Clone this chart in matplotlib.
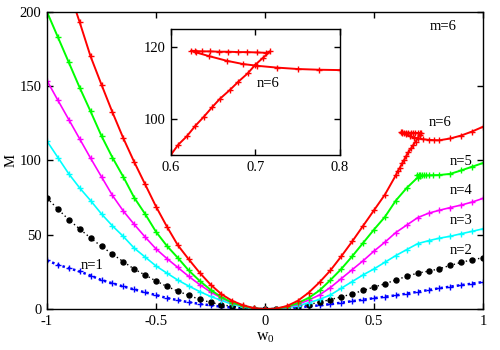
import matplotlib
matplotlib.use("Agg")
import matplotlib.pyplot as plt
import numpy as np

plt.rcParams['font.family'] = ['Liberation Serif', 'DejaVu Serif']
plt.rcParams['mathtext.fontset'] = 'custom'
plt.rcParams['mathtext.rm'] = 'Liberation Serif'
plt.rcParams['mathtext.it'] = 'Liberation Serif'

# ---- data ----
w_left = [-1, -0.95, -0.9, -0.85, -0.8, -0.75, -0.7, -0.65, -0.6, -0.55, -0.5,
          -0.45, -0.4, -0.35, -0.3, -0.25, -0.2, -0.15, -0.1, -0.05, 0]
w_right = [0.05, 0.1, 0.15, 0.2, 0.25, 0.3, 0.35, 0.4, 0.45, 0.5, 0.55, 0.6,
           0.65, 0.7, 0.75, 0.8, 0.85, 0.9, 0.95, 1.0]

n1_left = [32.7, 29.8, 27.5, 25.3, 22.5, 19.5, 17.3, 15.2, 13.2, 11.2, 9.4,
           7.4, 6.0, 4.6, 3.5, 2.5, 1.6, 1.0, 0.5, 0.2, 0]
n1_right = [0.05, 0.3, 1.0, 1.8, 2.5, 3.3, 4.3, 5.3, 6.3, 7.3, 8.3, 9.2,
            10.4, 11.6, 12.8, 14.0, 15.1, 16.1, 17.1, 18.2]

n2_left = [74.7, 67.3, 60.1, 53.9, 47.8, 42.2, 37.0, 31.9, 26.9, 22.9, 18.9,
           15.2, 12.1, 9.2, 6.5, 4.5, 2.9, 1.8, 0.8, 0.2, 0]
n2_right = [0.1, 0.7, 1.8, 3.0, 4.6, 6.4, 8.2, 10.2, 12.5, 14.8, 17.0, 19.6,
            22.0, 24.2, 25.5, 27.1, 29.4, 31.4, 33.2, 34.5]

n3_left = [113, 102, 91, 81.5, 73, 64, 56, 48.9, 41, 35, 29,
           24.2, 19.5, 15.5, 11.8, 8.5, 5.8, 3.2, 1.3, 0.3, 0]
n3_right = [0.1, 0.8, 2.2, 4.2, 6.5, 9.5, 14.0, 18.5, 23.0, 27.0, 31.5, 36.0,
            40.0, 44.0, 46.0, 47.7, 49.0, 50.7, 52.3, 54.0]

n4_left = [153.7, 140.5, 127.5, 114.5, 101.5, 89, 76.5, 66, 57, 48.5, 40.5,
           34, 28, 22, 16.5, 11.5, 7.5, 4.0, 1.8, 0.5, 0]
n4_right = [0.2, 1.2, 3.2, 6.0, 9.5, 14.5, 20.5, 26.5, 32.5, 39.0, 45.0, 51.5,
            56.5, 61.5, 64.5, 66.5, 68.3, 70.0, 72.0, 74.5]

n5_left = [200, 183, 166, 149, 133, 116.5, 102, 89, 75, 64, 52,
           42.5, 34.5, 26, 19, 13, 8, 4.3, 2.0, 0.5, 0]
n5_w_right = [0.05, 0.1, 0.15, 0.2, 0.25, 0.3, 0.35, 0.4, 0.45, 0.5, 0.55, 0.6,
              0.65, 0.7, 0.712, 0.705, 0.697, 0.71, 0.72, 0.73, 0.74, 0.75,
              0.77, 0.8, 0.85, 0.9, 0.95, 1.0]
n5_right = [0.2, 1.5, 4.0, 7.5, 12.5, 19.5, 27.0, 35.5, 44.5, 53.5, 62.0, 73.0,
            81.5, 88.5, 89.8, 89.9, 89.9, 89.9, 89.9, 89.9, 90.0, 90.0,
            90.1, 90.2, 91.0, 93.3, 95.8, 98.3]

n6_left = [262, 238, 215, 193, 170, 151, 132.5, 115, 99, 84, 69,
           55.5, 43, 33.5, 24.5, 16.5, 10, 5.5, 2.5, 0.6, 0]
n6_w_right = [0.05, 0.1, 0.15, 0.2, 0.25, 0.3, 0.35, 0.4, 0.45, 0.5, 0.55, 0.6,
              0.609, 0.619, 0.629, 0.639, 0.649, 0.658, 0.670, 0.680, 0.691,
              0.700, 0.709, 0.7175,
              0.713, 0.702, 0.690, 0.680, 0.668, 0.657, 0.647, 0.637, 0.629,
              0.624, 0.63, 0.645, 0.666, 0.685, 0.702, 0.725, 0.75, 0.775,
              0.8, 0.85, 0.9, 0.95, 1.0]
n6_right = [0.3, 2.0, 5.5, 11.0, 18.0, 26.0, 35.5, 45.5, 56.0, 66.5, 77.0, 90.0,
            92.9, 95.2, 98.1, 100.6, 103.3, 105.6, 108.1, 110.4, 112.7,
            115.1, 117.0, 118.8,
            118.4, 118.5, 118.6, 118.6, 118.7, 118.7, 118.8, 118.8, 118.9,
            119.0, 118.5, 117.5, 116.2, 115.3, 114.8, 114.3, 113.9, 113.7,
            113.6, 114.8, 116.8, 119.5, 122.7]

x_ticks = [-1, -0.5, 0, 0.5, 1]
x_ticklabels = ['-1', '-0.5', '0', '0.5', '1']
y_ticks = [0, 50, 100, 150, 200]
inset_x_ticks = [0.6, 0.7, 0.8]
inset_x_ticklabels = ['0.6', '0.7', '0.8']
inset_y_ticks = [100, 120]

fig = plt.figure(figsize=(5, 3.5), dpi=100)
ax = fig.add_axes([0.094, 0.117, 0.872, 0.849])

FS = 10.5
MS = 4.2

def wl(right_w):
    return list(w_left) + list(right_w)

ax.plot(wl(w_right), n1_left + n1_right, color='#0000ff', lw=1.8,
        linestyle=(0, (1, 1.2)), marker='+', ms=MS, mew=1.0)
ax.plot(wl(w_right), n2_left + n2_right, color='black', lw=1.0,
        linestyle=(0, (1, 2)), marker='o', ms=3.6, mec='black', mfc='black')
ax.plot(wl(w_right), n3_left + n3_right, color='#00ffff', lw=1.2,
        marker='+', ms=MS, mew=1.0)
ax.plot(wl(w_right), n4_left + n4_right, color='#ff00ff', lw=1.2,
        marker='+', ms=MS, mew=1.0)
ax.plot(wl(n5_w_right), n5_left + n5_right, color='#00ff00', lw=1.4,
        marker='+', ms=MS, mew=1.0)
ax.plot(wl(n6_w_right), n6_left + n6_right, color='#ff0000', lw=1.4,
        marker='+', ms=MS, mew=1.0)

ax.set_xlim(-1, 1)
ax.set_ylim(0, 200)
ax.set_xticks(x_ticks)
ax.set_xticklabels(x_ticklabels)
ax.set_yticks(y_ticks)
ax.tick_params(direction='in', top=True, right=True, length=4, width=1,
               labelsize=FS, pad=4)
for s in ax.spines.values():
    s.set_linewidth(1.0)

ax.set_ylabel('M', fontsize=FS, labelpad=1)
ax.set_xlabel(r'$\mathrm{w_0}$', fontsize=FS + 1, labelpad=1)

ax.text(-0.794, 29.2, 'n=1', fontsize=FS, ha='center', va='center')
ax.text(0.899, 39.3, 'n=2', fontsize=FS, ha='center', va='center')
ax.text(0.899, 59.5, 'n=3', fontsize=FS, ha='center', va='center')
ax.text(0.899, 79.7, 'n=4', fontsize=FS, ha='center', va='center')
ax.text(0.899, 99.2, 'n=5', fontsize=FS, ha='center', va='center')
ax.text(0.803, 125.4, 'n=6', fontsize=FS, ha='center', va='center')
ax.text(0.817, 190, 'm=6', fontsize=FS, ha='center', va='center')

# ---- inset ----
ins = fig.add_axes([0.3414, 0.557, 0.3386, 0.36])
ins.plot(n6_w_right, n6_right, color='#ff0000', lw=1.4, marker='+', ms=MS, mew=1.0)
ins.set_xlim(0.6, 0.8)
ins.set_ylim(90, 125)
ins.set_xticks(inset_x_ticks)
ins.set_xticklabels(inset_x_ticklabels)
ins.set_yticks(inset_y_ticks)
ins.tick_params(direction='in', top=True, right=True, length=4, width=1,
                labelsize=FS, pad=4)
for s in ins.spines.values():
    s.set_linewidth(1.0)
ins.text(0.715, 109.8, 'n=6', fontsize=FS, ha='center', va='center')

fig.savefig('out.png', dpi=100)
